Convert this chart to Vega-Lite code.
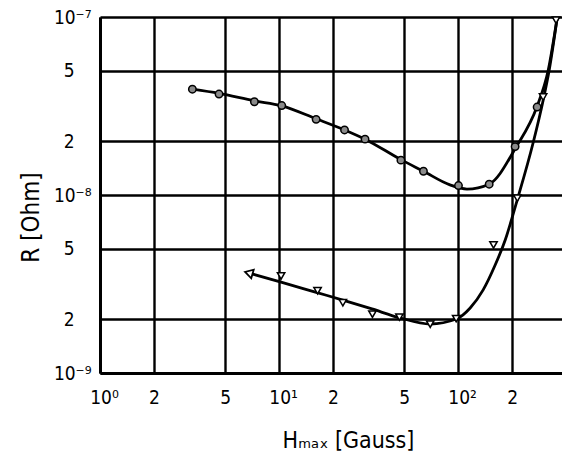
{
  "$schema": "https://vega.github.io/schema/vega-lite/v6.json",
  "width": 462,
  "height": 356,
  "autosize": {"type": "none"},
  "padding": {"left": 100, "top": 17, "right": 0, "bottom": 84},
  "background": "white",
  "config": {
    "view": {"stroke": null},
    "font": "DejaVu Sans Condensed, Liberation Sans Narrow, DejaVu Sans"
  },
  "datasets": {
    "curveA": [
      {"H": 3.28, "R": 3.93e-8}, {"H": 4.62, "R": 3.72e-8}, {"H": 7.28, "R": 3.38e-8},
      {"H": 10.35, "R": 3.17e-8}, {"H": 16.1, "R": 2.68e-8}, {"H": 23.2, "R": 2.32e-8},
      {"H": 30.2, "R": 2.06e-8}, {"H": 47.9, "R": 1.58e-8}, {"H": 64, "R": 1.36e-8},
      {"H": 90, "R": 1.14e-8}, {"H": 112, "R": 1.08e-8}, {"H": 149, "R": 1.15e-8},
      {"H": 210, "R": 1.85e-8}, {"H": 276, "R": 3.15e-8}, {"H": 318, "R": 5.0e-8},
      {"H": 357, "R": 9.87e-8}
    ],
    "curveB": [
      {"H": 6.88, "R": 3.63e-9}, {"H": 10.26, "R": 3.24e-9}, {"H": 16.3, "R": 2.83e-9},
      {"H": 22.7, "R": 2.57e-9}, {"H": 33, "R": 2.29e-9}, {"H": 47.4, "R": 2.04e-9},
      {"H": 69.8, "R": 1.885e-9}, {"H": 97.5, "R": 2.01e-9}, {"H": 116.7, "R": 2.32e-9},
      {"H": 137.9, "R": 2.93e-9}, {"H": 160.9, "R": 4.04e-9}, {"H": 183.1, "R": 5.59e-9},
      {"H": 213.6, "R": 9.37e-9}, {"H": 262, "R": 1.96e-8}, {"H": 298.5, "R": 3.42e-8},
      {"H": 322.4, "R": 5.04e-8}, {"H": 357, "R": 9.87e-8}
    ],
    "pointsA": [
      {"H": 3.28, "R": 3.93e-8}, {"H": 4.62, "R": 3.69e-8}, {"H": 7.28, "R": 3.34e-8},
      {"H": 10.35, "R": 3.18e-8}, {"H": 16.1, "R": 2.66e-8}, {"H": 23.2, "R": 2.32e-8},
      {"H": 30.2, "R": 2.06e-8}, {"H": 47.9, "R": 1.57e-8}, {"H": 64, "R": 1.36e-8},
      {"H": 100.4, "R": 1.13e-8}, {"H": 149, "R": 1.15e-8}, {"H": 208, "R": 1.87e-8},
      {"H": 276, "R": 3.12e-8}
    ],
    "pointsB": [
      {"H": 10.26, "R": 3.51e-9}, {"H": 16.4, "R": 2.9e-9}, {"H": 22.7, "R": 2.48e-9},
      {"H": 33.2, "R": 2.14e-9}, {"H": 47, "R": 2.06e-9}, {"H": 69.8, "R": 1.88e-9},
      {"H": 97.5, "R": 2.02e-9}, {"H": 157.5, "R": 5.24e-9}, {"H": 214, "R": 9.6e-9},
      {"H": 298, "R": 3.55e-8}, {"H": 352, "R": 9.6e-8}
    ],
    "arrowB": [
      {"H": 6.88, "R": 3.63e-9}
    ]
  },
  "encoding": {
    "x": {
      "field": "H", "type": "quantitative",
      "scale": {"type": "log", "domain": [1, 380], "nice": false},
      "axis": {
        "values": [1, 2, 5, 10, 20, 50, 100, 200],
        "labelExpr": "datum.value == 1 ? '10⁰' : datum.value == 10 ? '10¹' : datum.value == 100 ? '10²' : (datum.value == 5 || datum.value == 50) ? '5' : '2'",
        "grid": true, "gridColor": "black", "gridWidth": 2.4, "gridOpacity": 1,
        "domain": true, "domainColor": "black", "domainWidth": 3,
        "ticks": false, "labelFlush": false, "labelOverlap": false,
        "labelFontSize": 19, "labelColor": "black", "labelPadding": 15,
        "labelOffset": {"condition": {"test": "datum.value == 1 || datum.value == 10 || datum.value == 100", "value": 4}, "value": 0},
        "title": "Hₘₐₓ [Gauss]",
        "titleFontSize": 23, "titleFontWeight": "normal", "titleColor": "black",
        "titleX": 248, "titleY": 74, "titleBaseline": "alphabetic", "titleAlign": "center"
      }
    },
    "y": {
      "field": "R", "type": "quantitative",
      "scale": {"type": "log", "domain": [1e-9, 1e-7], "nice": false},
      "axis": {
        "values": [1e-9, 2e-9, 5e-9, 1e-8, 2e-8, 5e-8, 1e-7],
        "labelExpr": "datum.value < 1.5e-9 ? '10⁻⁹' : datum.value < 3e-9 ? '2' : datum.value < 7e-9 ? '5' : datum.value < 1.5e-8 ? '10⁻⁸' : datum.value < 3e-8 ? '2' : datum.value < 7e-8 ? '5' : '10⁻⁷'",
        "grid": true, "gridColor": "black", "gridWidth": 2.4, "gridOpacity": 1,
        "domain": true, "domainColor": "black", "domainWidth": 3,
        "ticks": false, "labelFlush": false, "labelOverlap": false,
        "labelFontSize": 19, "labelColor": "black",
        "labelPadding": {"condition": {"test": "datum.value < 1.5e-9 || (datum.value > 9e-9 && datum.value < 1.5e-8) || datum.value > 9e-8", "value": 9}, "value": 26},
        "title": "R [Ohm]",
        "titleFontSize": 24, "titleFontWeight": "normal", "titleColor": "black",
        "titleX": -62, "titleY": 200, "titleBaseline": "alphabetic", "titleAlign": "center", "titleAngle": -90
      }
    }
  },
  "layer": [
    {
      "data": {"name": "curveA"},
      "mark": {"type": "line", "interpolate": "monotone", "color": "black", "strokeWidth": 2.8, "clip": true}
    },
    {
      "data": {"name": "curveB"},
      "mark": {"type": "line", "interpolate": "monotone", "color": "black", "strokeWidth": 2.8, "clip": true}
    },
    {
      "data": {"name": "pointsA"},
      "mark": {"type": "point", "shape": "circle", "filled": true, "fill": "#8a8a8a", "stroke": "black", "strokeWidth": 1.5, "size": 55, "opacity": 1}
    },
    {
      "data": {"name": "pointsB"},
      "mark": {"type": "point", "shape": "triangle-down", "filled": true, "fill": "white", "stroke": "black", "strokeWidth": 1.5, "size": 55, "opacity": 1}
    },
    {
      "data": {"name": "arrowB"},
      "mark": {"type": "point", "shape": "triangle", "angle": -74, "filled": true, "fill": "white", "stroke": "black", "strokeWidth": 1.8, "size": 80, "opacity": 1}
    }
  ]
}
